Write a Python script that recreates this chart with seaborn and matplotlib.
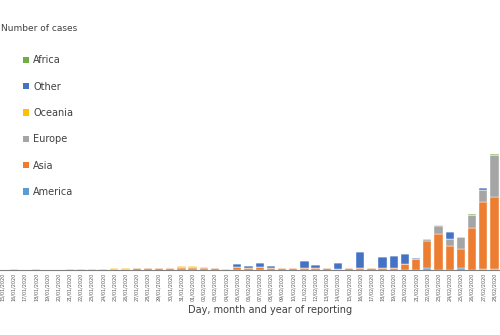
import matplotlib
matplotlib.use("Agg")
import matplotlib.pyplot as plt
import seaborn as sns
import numpy as np
from matplotlib.patches import Patch

dates = ["15/01/2020", "16/01/2020", "17/01/2020", "18/01/2020", "19/01/2020",
         "20/01/2020", "21/01/2020", "22/01/2020", "23/01/2020", "24/01/2020",
         "25/01/2020", "26/01/2020", "27/01/2020", "28/01/2020", "29/01/2020",
         "30/01/2020", "31/01/2020", "01/02/2020", "02/02/2020", "03/02/2020",
         "04/02/2020", "05/02/2020", "06/02/2020", "07/02/2020", "08/02/2020",
         "09/02/2020", "10/02/2020", "11/02/2020", "12/02/2020", "13/02/2020",
         "14/02/2020", "15/02/2020", "16/02/2020", "17/02/2020", "18/02/2020",
         "19/02/2020", "20/02/2020", "21/02/2020", "22/02/2020", "23/02/2020",
         "24/02/2020", "25/02/2020", "26/02/2020", "27/02/2020", "28/02/2020"]

america = [0, 0, 0, 0, 0, 0, 0, 0, 0, 0, 0, 0, 0, 0, 0,
           0, 0, 0, 0, 0, 0, 0, 0, 0, 0, 0, 0, 0, 0, 0,
           0, 0, 0, 0, 0, 0, 0, 0, 11, 0, 0, 11, 0, 4, 3]
asia = [0, 5, 0, 5, 0, 0, 6, 7, 8, 8, 7, 6, 9, 9, 9,
        9, 17, 17, 14, 9, 3, 23, 14, 23, 12, 11, 9, 11, 14, 9,
        7, 13, 11, 9, 9, 17, 51, 88, 230, 308, 200, 168, 355, 575, 620]
europe = [0, 0, 0, 0, 0, 0, 0, 0, 0, 0, 0, 0, 0, 5, 0,
          0, 8, 6, 0, 0, 0, 0, 0, 0, 4, 3, 0, 0, 0, 0,
          0, 0, 0, 3, 0, 0, 0, 0, 17, 66, 60, 103, 115, 105, 360]
oceania = [0, 0, 0, 0, 0, 0, 0, 0, 0, 0, 5, 4, 0, 0, 0,
           5, 8, 11, 8, 0, 0, 0, 0, 0, 0, 0, 0, 0, 0, 0,
           0, 0, 0, 0, 0, 0, 0, 0, 5, 5, 0, 0, 0, 0, 0]
other = [0, 0, 0, 0, 0, 0, 0, 0, 0, 0, 0, 0, 0, 0, 0,
         0, 0, 0, 0, 0, 0, 20, 14, 34, 10, 0, 0, 65, 28, 0,
         45, 0, 142, 0, 94, 97, 85, 14, 0, 0, 57, 0, 0, 17, 0]
africa = [0, 0, 0, 0, 0, 0, 0, 0, 0, 0, 0, 0, 0, 0, 0,
          0, 0, 0, 0, 0, 0, 0, 0, 0, 0, 0, 0, 0, 0, 0,
          0, 2, 0, 0, 0, 0, 0, 0, 0, 0, 0, 0, 8, 0, 10]

series_names = ["America", "Asia", "Europe", "Oceania", "Other", "Africa"]
series_values = [america, asia, europe, oceania, other, africa]
colors = ["#5B9BD5", "#ED7D31", "#A5A5A5", "#FFC000", "#4472C4", "#70AD47"]

sns.set_style("white")
plt.rcParams["font.family"] = ["DejaVu Sans"]

fig = plt.figure(figsize=(5.0, 3.35), dpi=100)
ax = fig.add_axes([0.0, 0.1955, 1.0, 0.697])

bottom = np.zeros(len(dates))
for name, vals, col in zip(series_names, series_values, colors):
    v = np.array(vals, dtype=float)
    sns.barplot(x=dates, y=v, bottom=bottom, color=col, width=0.74,
                edgecolor="white", linewidth=0.3, errorbar=None,
                order=dates, ax=ax, saturation=1)
    bottom = bottom + v

ax.set_xlim(-0.23, 44.45)
ax.set_ylim(0, 2000)
ax.set_yticks([])
ax.set_ylabel("")
ax.set_xlabel("")
for s in ["top", "right", "left"]:
    ax.spines[s].set_visible(False)
ax.spines["bottom"].set_color("#7f7f7f")
ax.spines["bottom"].set_linewidth(0.8)

ax.set_xticks(range(len(dates)))
ax.set_xticklabels(dates, rotation=90, fontsize=3.5, color="#595959")
ax.tick_params(axis="x", which="major", length=0, pad=2.5)
ax.set_xticks(np.arange(len(dates)) + 0.5, minor=True)
ax.tick_params(axis="x", which="minor", length=2, width=0.6, color="#595959",
               direction="out")

fig.text(0.002, 0.916, "Number of cases", fontsize=6.5, color="#404040",
         ha="left", va="center")
fig.text(0.54, 0.075, "Day, month and year of reporting", fontsize=7,
         color="#404040", ha="center", va="center")

handles = [Patch(facecolor=c, edgecolor="none", label=n)
           for n, c in zip(series_names, colors)][::-1]
fig.legend(handles=handles, loc="upper left", bbox_to_anchor=(0.045, 0.835),
           frameon=False, fontsize=7, labelspacing=1.68, handlelength=0.65,
           handleheight=0.65, handletextpad=0.45, labelcolor="#404040",
           borderpad=0, borderaxespad=0)

fig.savefig("out.png", dpi=100)
